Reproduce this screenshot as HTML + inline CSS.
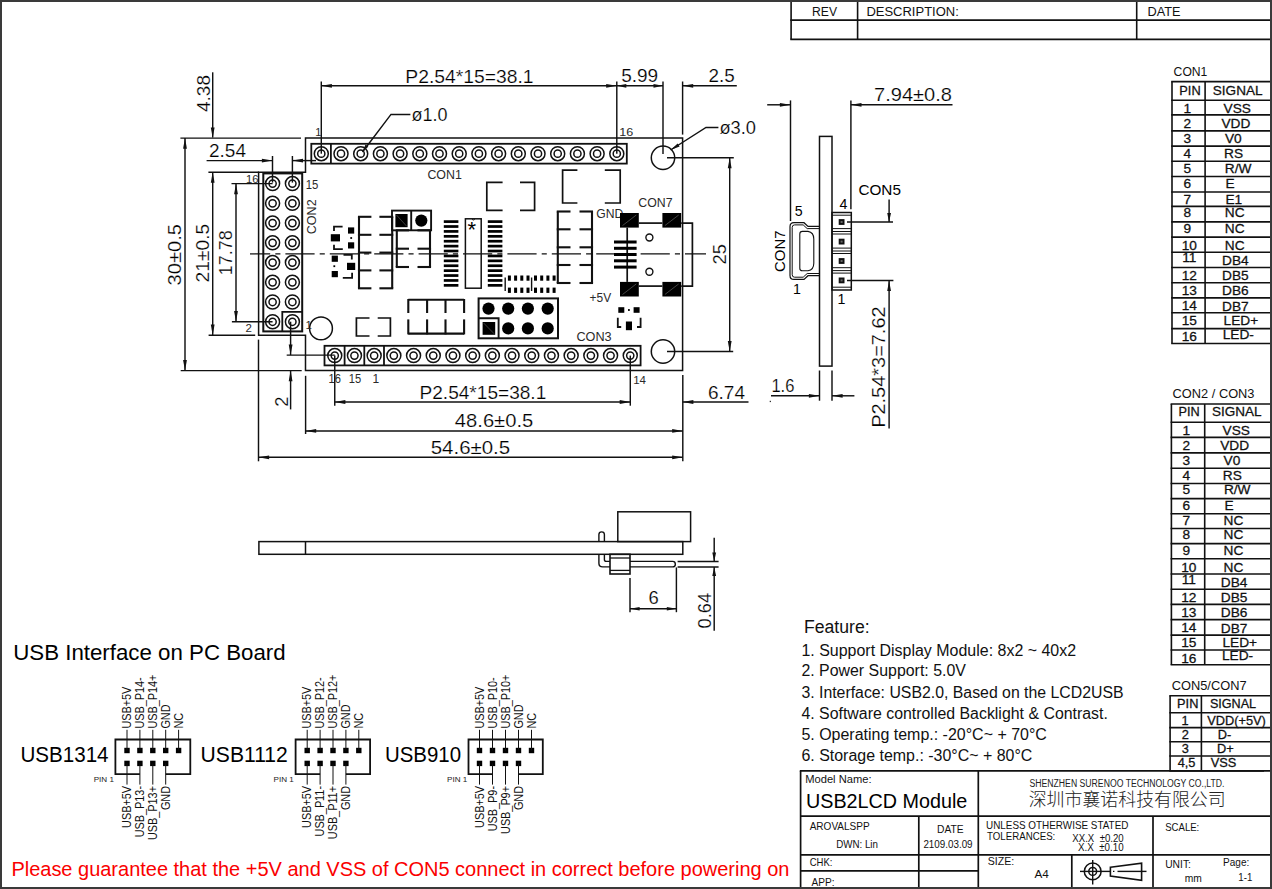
<!DOCTYPE html>
<html lang="en"><head><meta charset="utf-8"><title>USB2LCD Module drawing</title>
<style>
html,body{margin:0;padding:0;background:#fff;overflow:hidden}
svg{display:block;font-family:"Liberation Sans",sans-serif}
text{white-space:pre}
</style></head><body>
<svg width="1272" height="889" viewBox="0 0 1272 889">
<rect x="0" y="0" width="1272" height="889" fill="#fff"/>
<rect x="0" y="0" width="1272" height="2" fill="#3a3a3a"/>
<rect x="0" y="887" width="1272" height="2" fill="#3a3a3a"/>
<rect x="0" y="0" width="2" height="889" fill="#3a3a3a"/>
<rect x="1270" y="0" width="2" height="889" fill="#3a3a3a"/>
<line x1="791.1" y1="2" x2="791.1" y2="39.4" stroke="#111" stroke-width="1.6"/>
<line x1="857.6" y1="2" x2="857.6" y2="39.4" stroke="#111" stroke-width="1.6"/>
<line x1="1136.7" y1="2" x2="1136.7" y2="39.4" stroke="#111" stroke-width="1.6"/>
<line x1="790.3" y1="20.1" x2="1270" y2="20.1" stroke="#111" stroke-width="1.6"/>
<line x1="790.3" y1="39.4" x2="1270" y2="39.4" stroke="#111" stroke-width="1.6"/>
<text x="812" y="15.9" font-size="13.6" fill="#111" textLength="25" lengthAdjust="spacingAndGlyphs">REV</text>
<text x="866.4" y="15.9" font-size="13.6" fill="#111" textLength="92.4" lengthAdjust="spacingAndGlyphs">DESCRIPTION:</text>
<text x="1147.5" y="15.9" font-size="13.6" fill="#111" textLength="33" lengthAdjust="spacingAndGlyphs">DATE</text>
<path d="M305.5 138 L682.6 138 L682.6 370.6 L305.5 370.6 L305.5 335.2 L258.6 335.2 L258.6 172.3 L305.5 172.3 Z" stroke="#111" stroke-width="1.5" fill="none"/>
<line x1="250" y1="253.9" x2="706" y2="253.9" stroke="#111" stroke-width="1.25" stroke-dasharray="29.2 5.1 5.1 5" stroke-dashoffset="9"/>
<rect x="311.3" y="143.8" width="315.5" height="19.8" stroke="#111" stroke-width="1.8" fill="none"/>
<line x1="330.9" y1="143.8" x2="330.9" y2="163.6" stroke="#111" stroke-width="1.8"/>
<circle cx="321.3" cy="153.7" r="7" stroke="#111" stroke-width="1.5" fill="none"/>
<circle cx="321.3" cy="153.7" r="3.6" stroke="#111" stroke-width="1.5" fill="none"/>
<circle cx="341" cy="153.7" r="7" stroke="#111" stroke-width="1.5" fill="none"/>
<circle cx="341" cy="153.7" r="3.6" stroke="#111" stroke-width="1.5" fill="none"/>
<circle cx="360.7" cy="153.7" r="7" stroke="#111" stroke-width="1.5" fill="none"/>
<circle cx="360.7" cy="153.7" r="3.6" stroke="#111" stroke-width="1.5" fill="none"/>
<circle cx="380.4" cy="153.7" r="7" stroke="#111" stroke-width="1.5" fill="none"/>
<circle cx="380.4" cy="153.7" r="3.6" stroke="#111" stroke-width="1.5" fill="none"/>
<circle cx="400.1" cy="153.7" r="7" stroke="#111" stroke-width="1.5" fill="none"/>
<circle cx="400.1" cy="153.7" r="3.6" stroke="#111" stroke-width="1.5" fill="none"/>
<circle cx="419.8" cy="153.7" r="7" stroke="#111" stroke-width="1.5" fill="none"/>
<circle cx="419.8" cy="153.7" r="3.6" stroke="#111" stroke-width="1.5" fill="none"/>
<circle cx="439.5" cy="153.7" r="7" stroke="#111" stroke-width="1.5" fill="none"/>
<circle cx="439.5" cy="153.7" r="3.6" stroke="#111" stroke-width="1.5" fill="none"/>
<circle cx="459.2" cy="153.7" r="7" stroke="#111" stroke-width="1.5" fill="none"/>
<circle cx="459.2" cy="153.7" r="3.6" stroke="#111" stroke-width="1.5" fill="none"/>
<circle cx="478.9" cy="153.7" r="7" stroke="#111" stroke-width="1.5" fill="none"/>
<circle cx="478.9" cy="153.7" r="3.6" stroke="#111" stroke-width="1.5" fill="none"/>
<circle cx="498.6" cy="153.7" r="7" stroke="#111" stroke-width="1.5" fill="none"/>
<circle cx="498.6" cy="153.7" r="3.6" stroke="#111" stroke-width="1.5" fill="none"/>
<circle cx="518.3" cy="153.7" r="7" stroke="#111" stroke-width="1.5" fill="none"/>
<circle cx="518.3" cy="153.7" r="3.6" stroke="#111" stroke-width="1.5" fill="none"/>
<circle cx="538" cy="153.7" r="7" stroke="#111" stroke-width="1.5" fill="none"/>
<circle cx="538" cy="153.7" r="3.6" stroke="#111" stroke-width="1.5" fill="none"/>
<circle cx="557.7" cy="153.7" r="7" stroke="#111" stroke-width="1.5" fill="none"/>
<circle cx="557.7" cy="153.7" r="3.6" stroke="#111" stroke-width="1.5" fill="none"/>
<circle cx="577.4" cy="153.7" r="7" stroke="#111" stroke-width="1.5" fill="none"/>
<circle cx="577.4" cy="153.7" r="3.6" stroke="#111" stroke-width="1.5" fill="none"/>
<circle cx="597.1" cy="153.7" r="7" stroke="#111" stroke-width="1.5" fill="none"/>
<circle cx="597.1" cy="153.7" r="3.6" stroke="#111" stroke-width="1.5" fill="none"/>
<circle cx="616.8" cy="153.7" r="7" stroke="#111" stroke-width="1.5" fill="none"/>
<circle cx="616.8" cy="153.7" r="3.6" stroke="#111" stroke-width="1.5" fill="none"/>
<rect x="324.5" y="345.8" width="316.1" height="19.6" stroke="#111" stroke-width="1.8" fill="none"/>
<line x1="344.6" y1="345.8" x2="344.6" y2="365.4" stroke="#111" stroke-width="1.8"/>
<line x1="364.3" y1="345.8" x2="364.3" y2="365.4" stroke="#111" stroke-width="1.8"/>
<line x1="384" y1="345.8" x2="384" y2="365.4" stroke="#111" stroke-width="1.8"/>
<circle cx="334.75" cy="355.6" r="7" stroke="#111" stroke-width="1.5" fill="none"/>
<circle cx="334.75" cy="355.6" r="3.6" stroke="#111" stroke-width="1.5" fill="none"/>
<circle cx="354.45" cy="355.6" r="7" stroke="#111" stroke-width="1.5" fill="none"/>
<circle cx="354.45" cy="355.6" r="3.6" stroke="#111" stroke-width="1.5" fill="none"/>
<circle cx="374.15" cy="355.6" r="7" stroke="#111" stroke-width="1.5" fill="none"/>
<circle cx="374.15" cy="355.6" r="3.6" stroke="#111" stroke-width="1.5" fill="none"/>
<circle cx="393.85" cy="355.6" r="7" stroke="#111" stroke-width="1.5" fill="none"/>
<circle cx="393.85" cy="355.6" r="3.6" stroke="#111" stroke-width="1.5" fill="none"/>
<circle cx="413.55" cy="355.6" r="7" stroke="#111" stroke-width="1.5" fill="none"/>
<circle cx="413.55" cy="355.6" r="3.6" stroke="#111" stroke-width="1.5" fill="none"/>
<circle cx="433.25" cy="355.6" r="7" stroke="#111" stroke-width="1.5" fill="none"/>
<circle cx="433.25" cy="355.6" r="3.6" stroke="#111" stroke-width="1.5" fill="none"/>
<circle cx="452.95" cy="355.6" r="7" stroke="#111" stroke-width="1.5" fill="none"/>
<circle cx="452.95" cy="355.6" r="3.6" stroke="#111" stroke-width="1.5" fill="none"/>
<circle cx="472.65" cy="355.6" r="7" stroke="#111" stroke-width="1.5" fill="none"/>
<circle cx="472.65" cy="355.6" r="3.6" stroke="#111" stroke-width="1.5" fill="none"/>
<circle cx="492.35" cy="355.6" r="7" stroke="#111" stroke-width="1.5" fill="none"/>
<circle cx="492.35" cy="355.6" r="3.6" stroke="#111" stroke-width="1.5" fill="none"/>
<circle cx="512.05" cy="355.6" r="7" stroke="#111" stroke-width="1.5" fill="none"/>
<circle cx="512.05" cy="355.6" r="3.6" stroke="#111" stroke-width="1.5" fill="none"/>
<circle cx="531.75" cy="355.6" r="7" stroke="#111" stroke-width="1.5" fill="none"/>
<circle cx="531.75" cy="355.6" r="3.6" stroke="#111" stroke-width="1.5" fill="none"/>
<circle cx="551.45" cy="355.6" r="7" stroke="#111" stroke-width="1.5" fill="none"/>
<circle cx="551.45" cy="355.6" r="3.6" stroke="#111" stroke-width="1.5" fill="none"/>
<circle cx="571.15" cy="355.6" r="7" stroke="#111" stroke-width="1.5" fill="none"/>
<circle cx="571.15" cy="355.6" r="3.6" stroke="#111" stroke-width="1.5" fill="none"/>
<circle cx="590.85" cy="355.6" r="7" stroke="#111" stroke-width="1.5" fill="none"/>
<circle cx="590.85" cy="355.6" r="3.6" stroke="#111" stroke-width="1.5" fill="none"/>
<circle cx="610.55" cy="355.6" r="7" stroke="#111" stroke-width="1.5" fill="none"/>
<circle cx="610.55" cy="355.6" r="3.6" stroke="#111" stroke-width="1.5" fill="none"/>
<circle cx="630.25" cy="355.6" r="7" stroke="#111" stroke-width="1.5" fill="none"/>
<circle cx="630.25" cy="355.6" r="3.6" stroke="#111" stroke-width="1.5" fill="none"/>
<rect x="263.3" y="173.4" width="38.9" height="158" stroke="#111" stroke-width="2" fill="none"/>
<path d="M282.3 331.4 L282.3 311.9 L302.2 311.9" stroke="#111" stroke-width="1.8" fill="none"/>
<circle cx="272.6" cy="183.6" r="7" stroke="#111" stroke-width="1.5" fill="none"/>
<circle cx="272.6" cy="183.6" r="3.6" stroke="#111" stroke-width="1.5" fill="none"/>
<circle cx="292.4" cy="183.6" r="7" stroke="#111" stroke-width="1.5" fill="none"/>
<circle cx="292.4" cy="183.6" r="3.6" stroke="#111" stroke-width="1.5" fill="none"/>
<circle cx="272.6" cy="203.34" r="7" stroke="#111" stroke-width="1.5" fill="none"/>
<circle cx="272.6" cy="203.34" r="3.6" stroke="#111" stroke-width="1.5" fill="none"/>
<circle cx="292.4" cy="203.34" r="7" stroke="#111" stroke-width="1.5" fill="none"/>
<circle cx="292.4" cy="203.34" r="3.6" stroke="#111" stroke-width="1.5" fill="none"/>
<circle cx="272.6" cy="223.08" r="7" stroke="#111" stroke-width="1.5" fill="none"/>
<circle cx="272.6" cy="223.08" r="3.6" stroke="#111" stroke-width="1.5" fill="none"/>
<circle cx="292.4" cy="223.08" r="7" stroke="#111" stroke-width="1.5" fill="none"/>
<circle cx="292.4" cy="223.08" r="3.6" stroke="#111" stroke-width="1.5" fill="none"/>
<circle cx="272.6" cy="242.82" r="7" stroke="#111" stroke-width="1.5" fill="none"/>
<circle cx="272.6" cy="242.82" r="3.6" stroke="#111" stroke-width="1.5" fill="none"/>
<circle cx="292.4" cy="242.82" r="7" stroke="#111" stroke-width="1.5" fill="none"/>
<circle cx="292.4" cy="242.82" r="3.6" stroke="#111" stroke-width="1.5" fill="none"/>
<circle cx="272.6" cy="262.56" r="7" stroke="#111" stroke-width="1.5" fill="none"/>
<circle cx="272.6" cy="262.56" r="3.6" stroke="#111" stroke-width="1.5" fill="none"/>
<circle cx="292.4" cy="262.56" r="7" stroke="#111" stroke-width="1.5" fill="none"/>
<circle cx="292.4" cy="262.56" r="3.6" stroke="#111" stroke-width="1.5" fill="none"/>
<circle cx="272.6" cy="282.3" r="7" stroke="#111" stroke-width="1.5" fill="none"/>
<circle cx="272.6" cy="282.3" r="3.6" stroke="#111" stroke-width="1.5" fill="none"/>
<circle cx="292.4" cy="282.3" r="7" stroke="#111" stroke-width="1.5" fill="none"/>
<circle cx="292.4" cy="282.3" r="3.6" stroke="#111" stroke-width="1.5" fill="none"/>
<circle cx="272.6" cy="302.04" r="7" stroke="#111" stroke-width="1.5" fill="none"/>
<circle cx="272.6" cy="302.04" r="3.6" stroke="#111" stroke-width="1.5" fill="none"/>
<circle cx="292.4" cy="302.04" r="7" stroke="#111" stroke-width="1.5" fill="none"/>
<circle cx="292.4" cy="302.04" r="3.6" stroke="#111" stroke-width="1.5" fill="none"/>
<circle cx="272.6" cy="321.78" r="7" stroke="#111" stroke-width="1.5" fill="none"/>
<circle cx="272.6" cy="321.78" r="3.6" stroke="#111" stroke-width="1.5" fill="none"/>
<circle cx="292.4" cy="321.78" r="7" stroke="#111" stroke-width="1.5" fill="none"/>
<circle cx="292.4" cy="321.78" r="3.6" stroke="#111" stroke-width="1.5" fill="none"/>
<circle cx="663" cy="157.7" r="11.7" stroke="#111" stroke-width="1.5" fill="none"/>
<circle cx="321" cy="328.4" r="11.4" stroke="#111" stroke-width="1.5" fill="none"/>
<circle cx="663" cy="351.5" r="11.7" stroke="#111" stroke-width="1.5" fill="none"/>
<text x="315.2" y="136.2" font-size="11" fill="#2a2a2a">1</text>
<text x="619.2" y="135.6" font-size="11.5" fill="#2a2a2a" textLength="14" lengthAdjust="spacingAndGlyphs">16</text>
<text x="246" y="183.2" font-size="11.5" fill="#2a2a2a" textLength="12.5" lengthAdjust="spacingAndGlyphs">16</text>
<text x="305.8" y="188.6" font-size="12" fill="#2a2a2a" textLength="12.6" lengthAdjust="spacingAndGlyphs">15</text>
<text x="245.6" y="331.8" font-size="11.5" fill="#2a2a2a">2</text>
<text x="305.5" y="328.5" font-size="11.5" fill="#2a2a2a">1</text>
<text x="328.6" y="383.4" font-size="12" fill="#2a2a2a" textLength="12.4" lengthAdjust="spacingAndGlyphs">16</text>
<text x="348.7" y="383.4" font-size="12" fill="#2a2a2a" textLength="12.4" lengthAdjust="spacingAndGlyphs">15</text>
<text x="372.6" y="383.4" font-size="12" fill="#2a2a2a">1</text>
<text x="633.2" y="384.4" font-size="11.5" fill="#2a2a2a" textLength="12.8" lengthAdjust="spacingAndGlyphs">14</text>
<text x="427.4" y="178.8" font-size="12.5" fill="#2a2a2a" textLength="34.4" lengthAdjust="spacingAndGlyphs">CON1</text>
<text x="576.4" y="341.4" font-size="12.5" fill="#2a2a2a" textLength="35.2" lengthAdjust="spacingAndGlyphs">CON3</text>
<text x="638.3" y="207" font-size="12.5" fill="#2a2a2a" textLength="34.2" lengthAdjust="spacingAndGlyphs">CON7</text>
<text x="596.2" y="218.2" font-size="12.5" fill="#2a2a2a" textLength="27" lengthAdjust="spacingAndGlyphs">GND</text>
<text x="589.6" y="302" font-size="12" fill="#2a2a2a" textLength="21.6" lengthAdjust="spacingAndGlyphs">+5V</text>
<text x="315.8" y="234.2" font-size="12.5" fill="#2a2a2a" transform="rotate(-90 315.8 234.2)" textLength="34.8" lengthAdjust="spacingAndGlyphs">CON2</text>
<line x1="359" y1="216.8" x2="359" y2="288.3" stroke="#111" stroke-width="2.1"/>
<line x1="392.2" y1="216.8" x2="392.2" y2="288.3" stroke="#111" stroke-width="2.1"/>
<line x1="357.95" y1="216.8" x2="371.4" y2="216.8" stroke="#111" stroke-width="2.1"/>
<line x1="379.4" y1="216.8" x2="393.25" y2="216.8" stroke="#111" stroke-width="2.1"/>
<line x1="357.95" y1="234.8" x2="371.4" y2="234.8" stroke="#111" stroke-width="2.1"/>
<line x1="379.4" y1="234.8" x2="393.25" y2="234.8" stroke="#111" stroke-width="2.1"/>
<line x1="357.95" y1="252.6" x2="371.4" y2="252.6" stroke="#111" stroke-width="2.1"/>
<line x1="379.4" y1="252.6" x2="393.25" y2="252.6" stroke="#111" stroke-width="2.1"/>
<line x1="357.95" y1="270.4" x2="371.4" y2="270.4" stroke="#111" stroke-width="2.1"/>
<line x1="379.4" y1="270.4" x2="393.25" y2="270.4" stroke="#111" stroke-width="2.1"/>
<line x1="357.95" y1="288.3" x2="371.4" y2="288.3" stroke="#111" stroke-width="2.1"/>
<line x1="379.4" y1="288.3" x2="393.25" y2="288.3" stroke="#111" stroke-width="2.1"/>
<line x1="557.8" y1="211.5" x2="557.8" y2="283" stroke="#111" stroke-width="2.1"/>
<line x1="592" y1="211.5" x2="592" y2="283" stroke="#111" stroke-width="2.1"/>
<line x1="556.75" y1="211.5" x2="570.5" y2="211.5" stroke="#111" stroke-width="2.1"/>
<line x1="579.5" y1="211.5" x2="593.05" y2="211.5" stroke="#111" stroke-width="2.1"/>
<line x1="556.75" y1="229.3" x2="570.5" y2="229.3" stroke="#111" stroke-width="2.1"/>
<line x1="579.5" y1="229.3" x2="593.05" y2="229.3" stroke="#111" stroke-width="2.1"/>
<line x1="556.75" y1="247.3" x2="570.5" y2="247.3" stroke="#111" stroke-width="2.1"/>
<line x1="579.5" y1="247.3" x2="593.05" y2="247.3" stroke="#111" stroke-width="2.1"/>
<line x1="556.75" y1="265" x2="570.5" y2="265" stroke="#111" stroke-width="2.1"/>
<line x1="579.5" y1="265" x2="593.05" y2="265" stroke="#111" stroke-width="2.1"/>
<line x1="556.75" y1="283" x2="570.5" y2="283" stroke="#111" stroke-width="2.1"/>
<line x1="579.5" y1="283" x2="593.05" y2="283" stroke="#111" stroke-width="2.1"/>
<rect x="392" y="210.6" width="39.1" height="19.7" stroke="#111" stroke-width="1.9" fill="none"/>
<line x1="411.2" y1="210.6" x2="411.2" y2="230.3" stroke="#111" stroke-width="1.9"/>
<rect x="395.4" y="214" width="12.2" height="13.2" fill="#000"/>
<line x1="396.5" y1="215" x2="406.6" y2="226.2" stroke="#777" stroke-width="0.5"/>
<circle cx="421.3" cy="220.6" r="6.1" stroke="#111" stroke-width="0" fill="#000"/>
<line x1="396.8" y1="230.3" x2="396.8" y2="267" stroke="#111" stroke-width="2.1"/>
<line x1="430" y1="230.3" x2="430" y2="267" stroke="#111" stroke-width="2.1"/>
<line x1="395.75" y1="230.3" x2="409" y2="230.3" stroke="#111" stroke-width="2.1"/>
<line x1="417.5" y1="230.3" x2="431.05" y2="230.3" stroke="#111" stroke-width="2.1"/>
<line x1="395.75" y1="248.7" x2="409" y2="248.7" stroke="#111" stroke-width="2.1"/>
<line x1="417.5" y1="248.7" x2="431.05" y2="248.7" stroke="#111" stroke-width="2.1"/>
<line x1="395.75" y1="267" x2="409" y2="267" stroke="#111" stroke-width="2.1"/>
<line x1="417.5" y1="267" x2="431.05" y2="267" stroke="#111" stroke-width="2.1"/>
<rect x="465.4" y="218.8" width="15.8" height="69.4" stroke="#111" stroke-width="1.5" fill="none"/>
<path d="M472.2 218.8 A1.2 1.2 0 0 0 474.6 218.8" stroke="#111" stroke-width="1" fill="none"/>
<text x="471.8" y="237.3" font-size="22" fill="#000" text-anchor="middle">*</text>
<rect x="443.8" y="220.25" width="14.6" height="2.7" fill="#000"/>
<rect x="487.8" y="220.25" width="14.6" height="2.7" fill="#000"/>
<rect x="443.8" y="225.16" width="14.6" height="2.7" fill="#000"/>
<rect x="487.8" y="225.16" width="14.6" height="2.7" fill="#000"/>
<rect x="443.8" y="230.06" width="14.6" height="2.7" fill="#000"/>
<rect x="487.8" y="230.06" width="14.6" height="2.7" fill="#000"/>
<rect x="443.8" y="234.97" width="14.6" height="2.7" fill="#000"/>
<rect x="487.8" y="234.97" width="14.6" height="2.7" fill="#000"/>
<rect x="443.8" y="239.87" width="14.6" height="2.7" fill="#000"/>
<rect x="487.8" y="239.87" width="14.6" height="2.7" fill="#000"/>
<rect x="443.8" y="244.78" width="14.6" height="2.7" fill="#000"/>
<rect x="487.8" y="244.78" width="14.6" height="2.7" fill="#000"/>
<rect x="443.8" y="249.68" width="14.6" height="2.7" fill="#000"/>
<rect x="487.8" y="249.68" width="14.6" height="2.7" fill="#000"/>
<rect x="443.8" y="254.59" width="14.6" height="2.7" fill="#000"/>
<rect x="487.8" y="254.59" width="14.6" height="2.7" fill="#000"/>
<rect x="443.8" y="259.49" width="14.6" height="2.7" fill="#000"/>
<rect x="487.8" y="259.49" width="14.6" height="2.7" fill="#000"/>
<rect x="443.8" y="264.39" width="14.6" height="2.7" fill="#000"/>
<rect x="487.8" y="264.39" width="14.6" height="2.7" fill="#000"/>
<rect x="443.8" y="269.3" width="14.6" height="2.7" fill="#000"/>
<rect x="487.8" y="269.3" width="14.6" height="2.7" fill="#000"/>
<rect x="443.8" y="274.2" width="14.6" height="2.7" fill="#000"/>
<rect x="487.8" y="274.2" width="14.6" height="2.7" fill="#000"/>
<rect x="443.8" y="279.11" width="14.6" height="2.7" fill="#000"/>
<rect x="487.8" y="279.11" width="14.6" height="2.7" fill="#000"/>
<rect x="443.8" y="284.01" width="14.6" height="2.7" fill="#000"/>
<rect x="487.8" y="284.01" width="14.6" height="2.7" fill="#000"/>
<path d="M502.6 182.4 L486.8 182.4 L486.8 210.4 L502.6 210.4" stroke="#111" stroke-width="1.7" fill="none"/>
<path d="M520 182.4 L534.6 182.4 L534.6 210.4 L520 210.4" stroke="#111" stroke-width="1.7" fill="none"/>
<path d="M577.4 170.2 L562.6 170.2 L562.6 203 L577.4 203" stroke="#111" stroke-width="1.7" fill="none"/>
<path d="M604.8 170.2 L620.2 170.2 L620.2 203 L604.8 203" stroke="#111" stroke-width="1.7" fill="none"/>
<path d="M369.5 318 L356.4 318 L356.4 336 L369.5 336" stroke="#111" stroke-width="1.7" fill="none"/>
<path d="M377.7 318 L390.4 318 L390.4 336 L377.7 336" stroke="#111" stroke-width="1.7" fill="none"/>
<line x1="408.3" y1="299.8" x2="464.1" y2="299.8" stroke="#111" stroke-width="2.1"/>
<line x1="408.3" y1="333.6" x2="464.1" y2="333.6" stroke="#111" stroke-width="2.1"/>
<line x1="408.3" y1="299" x2="408.3" y2="313" stroke="#111" stroke-width="2.1"/>
<line x1="408.3" y1="319.4" x2="408.3" y2="334.4" stroke="#111" stroke-width="2.1"/>
<line x1="427.1" y1="299" x2="427.1" y2="313" stroke="#111" stroke-width="2.1"/>
<line x1="427.1" y1="319.4" x2="427.1" y2="334.4" stroke="#111" stroke-width="2.1"/>
<line x1="445.5" y1="299" x2="445.5" y2="313" stroke="#111" stroke-width="2.1"/>
<line x1="445.5" y1="319.4" x2="445.5" y2="334.4" stroke="#111" stroke-width="2.1"/>
<line x1="464.1" y1="299" x2="464.1" y2="313" stroke="#111" stroke-width="2.1"/>
<line x1="464.1" y1="319.4" x2="464.1" y2="334.4" stroke="#111" stroke-width="2.1"/>
<rect x="478.6" y="298.4" width="79.4" height="39.9" stroke="#111" stroke-width="2" fill="none"/>
<path d="M478.6 318.3 L498.6 318.3 L498.6 338.3" stroke="#111" stroke-width="1.9" fill="none"/>
<rect x="482.6" y="322" width="12.6" height="12.8" fill="#000"/>
<line x1="483.6" y1="323" x2="494.2" y2="333.8" stroke="#777" stroke-width="0.5"/>
<circle cx="488.5" cy="308.6" r="6.1" stroke="#111" stroke-width="0" fill="#000"/>
<circle cx="508.2" cy="308.6" r="6.1" stroke="#111" stroke-width="0" fill="#000"/>
<circle cx="508.2" cy="328.4" r="6.1" stroke="#111" stroke-width="0" fill="#000"/>
<circle cx="527.9" cy="308.6" r="6.1" stroke="#111" stroke-width="0" fill="#000"/>
<circle cx="527.9" cy="328.4" r="6.1" stroke="#111" stroke-width="0" fill="#000"/>
<circle cx="547.7" cy="308.6" r="6.1" stroke="#111" stroke-width="0" fill="#000"/>
<circle cx="547.7" cy="328.4" r="6.1" stroke="#111" stroke-width="0" fill="#000"/>
<rect x="507.9" y="275.5" width="3" height="5.2" fill="#000"/>
<rect x="507.9" y="287.6" width="3" height="5.3" fill="#000"/>
<rect x="514.1" y="275.5" width="3" height="5.2" fill="#000"/>
<rect x="514.1" y="287.6" width="3" height="5.3" fill="#000"/>
<rect x="520.3" y="275.5" width="3" height="5.2" fill="#000"/>
<rect x="520.3" y="287.6" width="3" height="5.3" fill="#000"/>
<rect x="526.5" y="275.5" width="3" height="5.2" fill="#000"/>
<rect x="526.5" y="287.6" width="3" height="5.3" fill="#000"/>
<rect x="534" y="275.5" width="3" height="5.2" fill="#000"/>
<rect x="534" y="287.6" width="3" height="5.3" fill="#000"/>
<rect x="540.2" y="275.5" width="3" height="5.2" fill="#000"/>
<rect x="540.2" y="287.6" width="3" height="5.3" fill="#000"/>
<rect x="546.4" y="275.5" width="3" height="5.2" fill="#000"/>
<rect x="546.4" y="287.6" width="3" height="5.3" fill="#000"/>
<rect x="552.6" y="275.5" width="3" height="5.2" fill="#000"/>
<rect x="552.6" y="287.6" width="3" height="5.3" fill="#000"/>
<line x1="505.2" y1="277.5" x2="505.2" y2="291" stroke="#111" stroke-width="1.4"/>
<line x1="531.6" y1="277.5" x2="531.6" y2="291" stroke="#111" stroke-width="1.4"/>
<rect x="620" y="213" width="18.8" height="14.6" fill="#000"/>
<line x1="622.5" y1="225.6" x2="636.3" y2="215" stroke="#888" stroke-width="0.5"/>
<rect x="662.4" y="213" width="18.8" height="14.6" fill="#000"/>
<line x1="664.9" y1="225.6" x2="678.7" y2="215" stroke="#888" stroke-width="0.5"/>
<rect x="620" y="281.9" width="18.8" height="14.6" fill="#000"/>
<line x1="622.5" y1="294.5" x2="636.3" y2="283.9" stroke="#888" stroke-width="0.5"/>
<rect x="662.4" y="281.9" width="18.8" height="14.6" fill="#000"/>
<line x1="664.9" y1="294.5" x2="678.7" y2="283.9" stroke="#888" stroke-width="0.5"/>
<line x1="638.8" y1="223.1" x2="662.4" y2="223.1" stroke="#111" stroke-width="1.7"/>
<line x1="638.8" y1="286.1" x2="662.4" y2="286.1" stroke="#111" stroke-width="1.7"/>
<path d="M681.2 223.1 L692.4 223.1 L692.4 286.1 L681.2 286.1" stroke="#111" stroke-width="1.7" fill="none"/>
<line x1="627.2" y1="227.6" x2="627.2" y2="281.9" stroke="#111" stroke-width="1.7"/>
<rect x="614" y="240.5" width="22.6" height="3" fill="#000"/>
<rect x="614" y="246.8" width="22.6" height="3" fill="#000"/>
<rect x="614" y="253" width="22.6" height="3" fill="#000"/>
<rect x="614" y="259.3" width="22.6" height="3" fill="#000"/>
<rect x="614" y="265.6" width="22.6" height="3" fill="#000"/>
<circle cx="649.4" cy="237.5" r="3.5" stroke="#111" stroke-width="1.4" fill="none"/>
<circle cx="649.4" cy="271.7" r="3.5" stroke="#111" stroke-width="1.4" fill="none"/>
<rect x="330.8" y="234.2" width="9.2" height="7.2" fill="#000"/>
<rect x="348" y="227.4" width="6.2" height="6.2" fill="#000"/>
<rect x="348" y="242.3" width="6.2" height="6.2" fill="#000"/>
<rect x="350.3" y="237.1" width="1.8" height="1.8" fill="#000"/>
<path d="M342.6 226.6 L334 226.6 L334 231" stroke="#111" stroke-width="1.8" fill="none"/>
<path d="M334 244.8 L334 249.2 L342.8 249.2" stroke="#111" stroke-width="1.8" fill="none"/>
<rect x="331.7" y="255.6" width="6.2" height="6.2" fill="#000"/>
<rect x="347" y="262.8" width="8.2" height="7.2" fill="#000"/>
<rect x="331.7" y="271" width="6.2" height="6.2" fill="#000"/>
<rect x="333.4" y="265.3" width="1.8" height="1.8" fill="#000"/>
<path d="M343.5 254.8 L351.8 254.8 L351.8 259.4" stroke="#111" stroke-width="1.8" fill="none"/>
<path d="M342.8 277.8 L352.1 277.8 L352.1 272.8" stroke="#111" stroke-width="1.8" fill="none"/>
<rect x="618.3" y="307.2" width="6" height="5.6" fill="#000"/>
<rect x="633.6" y="307.2" width="6" height="5.6" fill="#000"/>
<rect x="628" y="309.1" width="1.8" height="1.8" fill="#000"/>
<rect x="625.9" y="321.5" width="6.1" height="8.7" fill="#000"/>
<path d="M617.8 317.8 L617.8 327 L621.2 327" stroke="#111" stroke-width="1.8" fill="none"/>
<path d="M640.6 317.8 L640.6 327 L637 327" stroke="#111" stroke-width="1.8" fill="none"/>
<line x1="321.3" y1="81.5" x2="321.3" y2="153.7" stroke="#111" stroke-width="1.45"/>
<line x1="616.8" y1="81.5" x2="616.8" y2="153.7" stroke="#111" stroke-width="1.45"/>
<line x1="663" y1="81.5" x2="663" y2="154" stroke="#111" stroke-width="1.45"/>
<line x1="682.6" y1="81.5" x2="682.6" y2="134.6" stroke="#111" stroke-width="1.45"/>
<line x1="321.3" y1="85.8" x2="663" y2="85.8" stroke="#111" stroke-width="1.45"/>
<polygon points="321.3,85.8 331.9,83.9 331.9,87.7" fill="#111"/>
<polygon points="616.8,85.8 606.2,83.9 606.2,87.7" fill="#111"/>
<polygon points="616.8,85.8 626.3,83.9 626.3,87.7" fill="#111"/>
<polygon points="663,85.8 653.5,83.9 653.5,87.7" fill="#111"/>
<line x1="682.6" y1="85.8" x2="736.8" y2="85.8" stroke="#111" stroke-width="1.45"/>
<polygon points="682.6,85.8 693.2,83.9 693.2,87.7" fill="#111"/>
<text x="405.3" y="82.6" font-size="18.4" fill="#000" textLength="128.2" lengthAdjust="spacingAndGlyphs" stroke="#fff" stroke-width="0.2">P2.54*15=38.1</text>
<text x="621.2" y="82.2" font-size="18.4" fill="#000" textLength="37" lengthAdjust="spacingAndGlyphs" stroke="#fff" stroke-width="0.2">5.99</text>
<text x="708.6" y="82.2" font-size="18.4" fill="#000" textLength="26.2" lengthAdjust="spacingAndGlyphs" stroke="#fff" stroke-width="0.2">2.5</text>
<line x1="180.4" y1="138.1" x2="301" y2="138.1" stroke="#111" stroke-width="1.45"/>
<line x1="212.7" y1="72.3" x2="212.7" y2="137.5" stroke="#111" stroke-width="1.45"/>
<polygon points="212.7,138.1 210.8,127.5 214.6,127.5" fill="#111"/>
<text x="210" y="112" font-size="18.4" fill="#000" transform="rotate(-90 210 112)" textLength="37" lengthAdjust="spacingAndGlyphs" stroke="#fff" stroke-width="0.2">4.38</text>
<line x1="272.5" y1="156" x2="272.5" y2="182.6" stroke="#111" stroke-width="1.45"/>
<line x1="292.4" y1="156" x2="292.4" y2="182.6" stroke="#111" stroke-width="1.45"/>
<line x1="206.6" y1="160.6" x2="272.5" y2="160.6" stroke="#111" stroke-width="1.45"/>
<polygon points="272.5,160.6 261.9,158.7 261.9,162.5" fill="#111"/>
<line x1="292.4" y1="160.6" x2="316" y2="160.6" stroke="#111" stroke-width="1.45"/>
<polygon points="292.4,160.6 303,158.7 303,162.5" fill="#111"/>
<text x="209" y="157" font-size="18.4" fill="#000" textLength="37" lengthAdjust="spacingAndGlyphs" stroke="#fff" stroke-width="0.2">2.54</text>
<path d="M362.5 152 L391 114.4 L410.4 114.4" stroke="#111" stroke-width="1.45" fill="none"/>
<polygon points="362.6,151.2 365.5,144.5 368.3,146.7" fill="#111"/>
<text x="411.4" y="120.6" font-size="18.4" fill="#000" textLength="36" lengthAdjust="spacingAndGlyphs" stroke="#fff" stroke-width="0.2">ø1.0</text>
<path d="M670.6 150 L706 127.5 L718.4 127.5" stroke="#111" stroke-width="1.45" fill="none"/>
<polygon points="670.6,150 677.6,143.4 679.6,146.5" fill="#111"/>
<text x="719.4" y="133.6" font-size="18.4" fill="#000" textLength="36.6" lengthAdjust="spacingAndGlyphs" stroke="#fff" stroke-width="0.2">ø3.0</text>
<line x1="185" y1="138.1" x2="185" y2="370.6" stroke="#111" stroke-width="1.45"/>
<polygon points="185,138.1 183.1,148.7 186.9,148.7" fill="#111"/>
<polygon points="185,370.6 183.1,360 186.9,360" fill="#111"/>
<line x1="180.7" y1="370.6" x2="301.7" y2="370.6" stroke="#111" stroke-width="1.45"/>
<text x="181.2" y="285.4" font-size="18.4" fill="#000" transform="rotate(-90 181.2 285.4)" textLength="61.4" lengthAdjust="spacingAndGlyphs" stroke="#fff" stroke-width="0.2">30±0.5</text>
<line x1="208.4" y1="172.2" x2="259" y2="172.2" stroke="#111" stroke-width="1.45"/>
<line x1="208.6" y1="335.2" x2="255.2" y2="335.2" stroke="#111" stroke-width="1.45"/>
<line x1="212.7" y1="172.2" x2="212.7" y2="335.2" stroke="#111" stroke-width="1.45"/>
<polygon points="212.7,172.2 210.8,182.8 214.6,182.8" fill="#111"/>
<polygon points="212.7,335.2 210.8,324.6 214.6,324.6" fill="#111"/>
<text x="209.4" y="282.4" font-size="18.4" fill="#000" transform="rotate(-90 209.4 282.4)" textLength="58.6" lengthAdjust="spacingAndGlyphs" stroke="#fff" stroke-width="0.2">21±0.5</text>
<line x1="231.5" y1="183.6" x2="272.6" y2="183.6" stroke="#111" stroke-width="1.45"/>
<line x1="231.9" y1="321.7" x2="272.6" y2="321.7" stroke="#111" stroke-width="1.45"/>
<line x1="236" y1="183.6" x2="236" y2="321.7" stroke="#111" stroke-width="1.45"/>
<polygon points="236,183.6 234.1,194.2 237.9,194.2" fill="#111"/>
<polygon points="236,321.7 234.1,311.1 237.9,311.1" fill="#111"/>
<text x="232.2" y="275.2" font-size="18.4" fill="#000" transform="rotate(-90 232.2 275.2)" textLength="45" lengthAdjust="spacingAndGlyphs" stroke="#fff" stroke-width="0.2">17.78</text>
<line x1="290.6" y1="321.7" x2="290.6" y2="355.1" stroke="#111" stroke-width="1.45"/>
<polygon points="290.6,355.1 288.7,344.5 292.5,344.5" fill="#111"/>
<line x1="286.7" y1="355.1" x2="334.7" y2="355.1" stroke="#111" stroke-width="1.45"/>
<line x1="290.6" y1="370.6" x2="290.6" y2="409.4" stroke="#111" stroke-width="1.45"/>
<polygon points="290.6,370.6 288.7,381.2 292.5,381.2" fill="#111"/>
<text x="287.8" y="406.8" font-size="18.4" fill="#000" transform="rotate(-90 287.8 406.8)" stroke="#fff" stroke-width="0.2">2</text>
<line x1="334.75" y1="355.6" x2="334.75" y2="405.7" stroke="#111" stroke-width="1.45"/>
<line x1="630.3" y1="355.6" x2="630.3" y2="405.7" stroke="#111" stroke-width="1.45"/>
<line x1="334.75" y1="402" x2="630.3" y2="402" stroke="#111" stroke-width="1.45"/>
<polygon points="334.75,402 345.35,400.1 345.35,403.9" fill="#111"/>
<polygon points="630.3,402 619.7,400.1 619.7,403.9" fill="#111"/>
<text x="419.5" y="398.8" font-size="18.4" fill="#000" textLength="126.8" lengthAdjust="spacingAndGlyphs" stroke="#fff" stroke-width="0.2">P2.54*15=38.1</text>
<line x1="305.6" y1="375.8" x2="305.6" y2="434" stroke="#111" stroke-width="1.45"/>
<line x1="682.8" y1="375" x2="682.8" y2="461.3" stroke="#111" stroke-width="1.45"/>
<line x1="305.6" y1="430.9" x2="682.8" y2="430.9" stroke="#111" stroke-width="1.45"/>
<polygon points="305.6,430.9 316.2,429 316.2,432.8" fill="#111"/>
<polygon points="682.8,430.9 672.2,429 672.2,432.8" fill="#111"/>
<text x="454.8" y="427.3" font-size="18.4" fill="#000" textLength="78.5" lengthAdjust="spacingAndGlyphs" stroke="#fff" stroke-width="0.2">48.6±0.5</text>
<line x1="258.5" y1="339.6" x2="258.5" y2="461.3" stroke="#111" stroke-width="1.45"/>
<line x1="258.5" y1="457.3" x2="682.8" y2="457.3" stroke="#111" stroke-width="1.45"/>
<polygon points="258.5,457.3 269.1,455.4 269.1,459.2" fill="#111"/>
<polygon points="682.8,457.3 672.2,455.4 672.2,459.2" fill="#111"/>
<text x="430.7" y="453.7" font-size="18.4" fill="#000" textLength="79.5" lengthAdjust="spacingAndGlyphs" stroke="#fff" stroke-width="0.2">54.6±0.5</text>
<line x1="682.8" y1="402" x2="748.5" y2="402" stroke="#111" stroke-width="1.45"/>
<polygon points="682.8,402 693.4,400.1 693.4,403.9" fill="#111"/>
<text x="708" y="398.6" font-size="18.4" fill="#000" textLength="37" lengthAdjust="spacingAndGlyphs" stroke="#fff" stroke-width="0.2">6.74</text>
<line x1="667" y1="157.7" x2="733.8" y2="157.7" stroke="#111" stroke-width="1.45"/>
<line x1="667" y1="351.5" x2="733.2" y2="351.5" stroke="#111" stroke-width="1.45"/>
<line x1="729.7" y1="157.7" x2="729.7" y2="351.5" stroke="#111" stroke-width="1.45"/>
<polygon points="729.7,157.7 727.8,168.3 731.6,168.3" fill="#111"/>
<polygon points="729.7,351.5 727.8,340.9 731.6,340.9" fill="#111"/>
<text x="725.8" y="264.4" font-size="18.4" fill="#000" transform="rotate(-90 725.8 264.4)" textLength="20.4" lengthAdjust="spacingAndGlyphs" stroke="#fff" stroke-width="0.2">25</text>
<rect x="819.5" y="136.4" width="12.5" height="229.7" stroke="#111" stroke-width="1.5" fill="none"/>
<line x1="790.5" y1="100.4" x2="790.5" y2="221" stroke="#111" stroke-width="1.45"/>
<line x1="850.9" y1="100.4" x2="850.9" y2="209.3" stroke="#111" stroke-width="1.45"/>
<line x1="767.2" y1="104.8" x2="790.5" y2="104.8" stroke="#111" stroke-width="1.45"/>
<polygon points="790.5,104.8 779.9,102.9 779.9,106.7" fill="#111"/>
<line x1="850.9" y1="104.8" x2="952.5" y2="104.8" stroke="#111" stroke-width="1.45"/>
<polygon points="850.9,104.8 861.5,102.9 861.5,106.7" fill="#111"/>
<text x="874" y="101.3" font-size="18.4" fill="#000" textLength="78" lengthAdjust="spacingAndGlyphs" stroke="#fff" stroke-width="0.2">7.94±0.8</text>
<rect x="832" y="212.5" width="19.3" height="77.5" stroke="#111" stroke-width="1.5" fill="none"/>
<line x1="832" y1="228.6" x2="851.3" y2="228.6" stroke="#111" stroke-width="1"/>
<line x1="832" y1="231.5" x2="851.3" y2="231.5" stroke="#111" stroke-width="1"/>
<line x1="832" y1="234" x2="851.3" y2="234" stroke="#111" stroke-width="1"/>
<line x1="832" y1="248.1" x2="851.3" y2="248.1" stroke="#111" stroke-width="1"/>
<line x1="832" y1="251" x2="851.3" y2="251" stroke="#111" stroke-width="1"/>
<line x1="832" y1="253.5" x2="851.3" y2="253.5" stroke="#111" stroke-width="1"/>
<line x1="832" y1="267.7" x2="851.3" y2="267.7" stroke="#111" stroke-width="1"/>
<line x1="832" y1="270.6" x2="851.3" y2="270.6" stroke="#111" stroke-width="1"/>
<line x1="832" y1="273.1" x2="851.3" y2="273.1" stroke="#111" stroke-width="1"/>
<line x1="832" y1="215.2" x2="851.3" y2="215.2" stroke="#111" stroke-width="1"/>
<line x1="832" y1="287.2" x2="851.3" y2="287.2" stroke="#111" stroke-width="1"/>
<rect x="838.7" y="219.1" width="5.8" height="5.8" fill="#111"/>
<rect x="840.6" y="221" width="2" height="2" fill="#666"/>
<rect x="838.7" y="238.7" width="5.8" height="5.8" fill="#111"/>
<rect x="840.6" y="240.6" width="2" height="2" fill="#666"/>
<rect x="838.7" y="258.1" width="5.8" height="5.8" fill="#111"/>
<rect x="840.6" y="260" width="2" height="2" fill="#666"/>
<rect x="838.7" y="277.5" width="5.8" height="5.8" fill="#111"/>
<rect x="840.6" y="279.4" width="2" height="2" fill="#666"/>
<line x1="847" y1="222" x2="893" y2="222" stroke="#111" stroke-width="1.45"/>
<line x1="847" y1="280.4" x2="893.4" y2="280.4" stroke="#111" stroke-width="1.45"/>
<line x1="889.1" y1="199.6" x2="889.1" y2="222" stroke="#111" stroke-width="1.45"/>
<polygon points="889.1,222 887.2,213 891,213" fill="#111"/>
<line x1="889.1" y1="280.4" x2="889.1" y2="428.6" stroke="#111" stroke-width="1.45"/>
<polygon points="889.1,280.4 887.2,291 891,291" fill="#111"/>
<text x="858.4" y="194.6" font-size="14.2" fill="#000" textLength="42.5" lengthAdjust="spacingAndGlyphs">CON5</text>
<text x="839.4" y="208.7" font-size="14.2" fill="#000">4</text>
<text x="794.8" y="216.4" font-size="14.2" fill="#000">5</text>
<text x="793" y="293.8" font-size="14.2" fill="#000">1</text>
<text x="837.6" y="304.4" font-size="14.2" fill="#000">1</text>
<text x="884.8" y="427.8" font-size="18.4" fill="#000" transform="rotate(-90 884.8 427.8)" textLength="121.4" lengthAdjust="spacingAndGlyphs" stroke="#fff" stroke-width="0.2">P2.54*3=7.62</text>
<text x="784.6" y="272" font-size="14.6" fill="#000" transform="rotate(-90 784.6 272)" textLength="41.5" lengthAdjust="spacingAndGlyphs">CON7</text>
<path d="M819.5 226.4 L808 226.4 L804 222.7 L794 222.7 Q790 222.7 790 226.7 L790 275.4 Q790 279.4 794 279.4 L804 279.4 L808 275.7 L819.5 275.7" stroke="#111" stroke-width="1.2" fill="none"/>
<path d="M819.5 228.6 L807.2 228.6 L803.2 224.9 L794.6 224.9 Q792.2 224.9 792.2 227.3 L792.2 274.8 Q792.2 277.2 794.6 277.2 L803.2 277.2 L807.2 273.5 L819.5 273.5" stroke="#111" stroke-width="1" fill="none"/>
<path d="M802.4 231.4 L808 231.4 Q813.8 232.4 813.8 239 L813.8 263.2 Q813.8 269.8 808 270.8 L802.4 270.8 Q799.8 270.8 799.8 268.2 L799.8 234 Q799.8 231.4 802.4 231.4 Z" stroke="#111" stroke-width="1.1" fill="none"/>
<line x1="819.5" y1="370.5" x2="819.5" y2="400.7" stroke="#111" stroke-width="1.45"/>
<line x1="832" y1="370.5" x2="832" y2="400.7" stroke="#111" stroke-width="1.45"/>
<line x1="771" y1="395.8" x2="819.5" y2="395.8" stroke="#111" stroke-width="1.45"/>
<polygon points="819.5,395.8 808.9,393.9 808.9,397.7" fill="#111"/>
<rect x="769.7" y="400.8" width="1.3" height="1.3" fill="#333"/>
<line x1="832" y1="395.8" x2="854.4" y2="395.8" stroke="#111" stroke-width="1.45"/>
<polygon points="832,395.8 842.6,393.9 842.6,397.7" fill="#111"/>
<text x="771.4" y="392.4" font-size="18.4" fill="#000" textLength="23" lengthAdjust="spacingAndGlyphs" stroke="#fff" stroke-width="0.2">1.6</text>
<rect x="258.9" y="541.6" width="423.9" height="12.7" stroke="#111" stroke-width="1.5" fill="none"/>
<line x1="305.5" y1="541.6" x2="305.5" y2="554.3" stroke="#111" stroke-width="1.5"/>
<rect x="617.8" y="511.8" width="72.8" height="29.8" stroke="#111" stroke-width="1.5" fill="none"/>
<rect x="610" y="554.3" width="20" height="19.7" stroke="#111" stroke-width="1.6" fill="none"/>
<line x1="610" y1="558" x2="630" y2="558" stroke="#111" stroke-width="1.3"/>
<line x1="610" y1="570.4" x2="630" y2="570.4" stroke="#111" stroke-width="1.3"/>
<path d="M630 561.4 L672.6 561.4 A2.75 2.75 0 0 1 672.6 566.9 L630 566.9" stroke="#111" stroke-width="1.4" fill="none"/>
<path d="M610 566.9 L602.6 566.9 Q598.9 566.9 598.9 563.2 L598.9 554.3" stroke="#111" stroke-width="1.4" fill="none"/>
<path d="M610 561.4 L606.4 561.4 Q604.4 561.4 604.4 559.4 L604.4 554.3" stroke="#111" stroke-width="1.4" fill="none"/>
<path d="M598.9 541.6 L598.9 534.6 A2.75 2.75 0 0 1 604.4 534.6 L604.4 541.6" stroke="#111" stroke-width="1.4" fill="none"/>
<line x1="677.6" y1="561.4" x2="718.6" y2="561.4" stroke="#111" stroke-width="1.45"/>
<line x1="677.6" y1="566.9" x2="718.6" y2="566.9" stroke="#111" stroke-width="1.45"/>
<line x1="714.2" y1="537.8" x2="714.2" y2="561.4" stroke="#111" stroke-width="1.45"/>
<polygon points="714.2,561.4 712.3,552.4 716.1,552.4" fill="#111"/>
<line x1="714.2" y1="566.9" x2="714.2" y2="630.7" stroke="#111" stroke-width="1.45"/>
<polygon points="714.2,566.9 712.3,575.9 716.1,575.9" fill="#111"/>
<text x="710.6" y="628.4" font-size="18.4" fill="#000" transform="rotate(-90 710.6 628.4)" textLength="35.6" lengthAdjust="spacingAndGlyphs" stroke="#fff" stroke-width="0.2">0.64</text>
<line x1="630" y1="578" x2="630" y2="612.2" stroke="#111" stroke-width="1.45"/>
<line x1="676.4" y1="567.4" x2="676.4" y2="612.2" stroke="#111" stroke-width="1.45"/>
<line x1="630" y1="608.7" x2="676.4" y2="608.7" stroke="#111" stroke-width="1.45"/>
<polygon points="630,608.7 639.6,606.9 639.6,610.5" fill="#111"/>
<polygon points="676.4,608.7 666.8,606.9 666.8,610.5" fill="#111"/>
<text x="648.6" y="604.4" font-size="18.4" fill="#000" stroke="#fff" stroke-width="0.2">6</text>
<text x="13.2" y="660" font-size="22" fill="#000" textLength="272.5" lengthAdjust="spacingAndGlyphs">USB Interface on PC Board</text>
<text x="20.4" y="762.4" font-size="21.6" fill="#000" textLength="88.2" lengthAdjust="spacingAndGlyphs">USB1314</text>
<path d="M139.9 774.2 L115.4 774.2 L115.4 739.5 L190.3 739.5 L190.3 774.2 L165.7 774.2" stroke="#111" stroke-width="1.8" fill="none"/>
<text x="93.7" y="781.5" font-size="7.4" fill="#222" textLength="20.2" lengthAdjust="spacingAndGlyphs">PIN 1</text>
<rect x="124.3" y="747.8" width="5.4" height="5.4" fill="#000"/>
<line x1="127" y1="729.8" x2="127" y2="750.5" stroke="#111" stroke-width="1"/>
<text x="131.2" y="728.6" font-size="12" fill="#111" transform="rotate(-90 131.2 728.6)" textLength="41.91" lengthAdjust="spacingAndGlyphs">USB+5V</text>
<rect x="124.3" y="760.7" width="5.4" height="5.4" fill="#000"/>
<line x1="127" y1="763.4" x2="127" y2="784.6" stroke="#111" stroke-width="1"/>
<text x="131.2" y="786" font-size="12" fill="#111" text-anchor="end" transform="rotate(-90 131.2 786)" textLength="41.91" lengthAdjust="spacingAndGlyphs">USB+5V</text>
<rect x="137.2" y="747.8" width="5.4" height="5.4" fill="#000"/>
<line x1="139.9" y1="729.8" x2="139.9" y2="750.5" stroke="#111" stroke-width="1"/>
<text x="144.1" y="728.6" font-size="12" fill="#111" transform="rotate(-90 144.1 728.6)" textLength="51.27" lengthAdjust="spacingAndGlyphs">USB_P14-</text>
<rect x="137.2" y="760.7" width="5.4" height="5.4" fill="#000"/>
<line x1="139.9" y1="763.4" x2="139.9" y2="784.6" stroke="#111" stroke-width="1"/>
<text x="144.1" y="786" font-size="12" fill="#111" text-anchor="end" transform="rotate(-90 144.1 786)" textLength="51.27" lengthAdjust="spacingAndGlyphs">USB_P13-</text>
<rect x="150.1" y="747.8" width="5.4" height="5.4" fill="#000"/>
<line x1="152.8" y1="729.8" x2="152.8" y2="750.5" stroke="#111" stroke-width="1"/>
<text x="157" y="728.6" font-size="12" fill="#111" transform="rotate(-90 157 728.6)" textLength="53.99" lengthAdjust="spacingAndGlyphs">USB_P14+</text>
<rect x="150.1" y="760.7" width="5.4" height="5.4" fill="#000"/>
<line x1="152.8" y1="763.4" x2="152.8" y2="784.6" stroke="#111" stroke-width="1"/>
<text x="157" y="786" font-size="12" fill="#111" text-anchor="end" transform="rotate(-90 157 786)" textLength="53.99" lengthAdjust="spacingAndGlyphs">USB_P13+</text>
<rect x="163" y="747.8" width="5.4" height="5.4" fill="#000"/>
<line x1="165.7" y1="729.8" x2="165.7" y2="750.5" stroke="#111" stroke-width="1"/>
<text x="169.9" y="728.6" font-size="12" fill="#111" transform="rotate(-90 169.9 728.6)" textLength="24.11" lengthAdjust="spacingAndGlyphs">GND</text>
<rect x="163" y="760.7" width="5.4" height="5.4" fill="#000"/>
<line x1="165.7" y1="763.4" x2="165.7" y2="784.6" stroke="#111" stroke-width="1"/>
<text x="169.9" y="786" font-size="12" fill="#111" text-anchor="end" transform="rotate(-90 169.9 786)" textLength="24.11" lengthAdjust="spacingAndGlyphs">GND</text>
<rect x="175.9" y="747.8" width="5.4" height="5.4" fill="#000"/>
<line x1="178.6" y1="729.8" x2="178.6" y2="750.5" stroke="#111" stroke-width="1"/>
<text x="182.8" y="728.6" font-size="12" fill="#111" transform="rotate(-90 182.8 728.6)" textLength="15.67" lengthAdjust="spacingAndGlyphs">NC</text>
<text x="200.6" y="762.4" font-size="21.6" fill="#000" textLength="87.2" lengthAdjust="spacingAndGlyphs">USB1112</text>
<path d="M320.1 774.2 L295.6 774.2 L295.6 739.5 L370.1 739.5 L370.1 774.2 L345.9 774.2" stroke="#111" stroke-width="1.8" fill="none"/>
<text x="273.6" y="781.5" font-size="7.4" fill="#222" textLength="20.2" lengthAdjust="spacingAndGlyphs">PIN 1</text>
<rect x="304.5" y="747.8" width="5.4" height="5.4" fill="#000"/>
<line x1="307.2" y1="729.8" x2="307.2" y2="750.5" stroke="#111" stroke-width="1"/>
<text x="311.4" y="728.6" font-size="12" fill="#111" transform="rotate(-90 311.4 728.6)" textLength="41.91" lengthAdjust="spacingAndGlyphs">USB+5V</text>
<rect x="304.5" y="760.7" width="5.4" height="5.4" fill="#000"/>
<line x1="307.2" y1="763.4" x2="307.2" y2="784.6" stroke="#111" stroke-width="1"/>
<text x="311.4" y="786" font-size="12" fill="#111" text-anchor="end" transform="rotate(-90 311.4 786)" textLength="41.91" lengthAdjust="spacingAndGlyphs">USB+5V</text>
<rect x="317.4" y="747.8" width="5.4" height="5.4" fill="#000"/>
<line x1="320.1" y1="729.8" x2="320.1" y2="750.5" stroke="#111" stroke-width="1"/>
<text x="324.3" y="728.6" font-size="12" fill="#111" transform="rotate(-90 324.3 728.6)" textLength="51.27" lengthAdjust="spacingAndGlyphs">USB_P12-</text>
<rect x="317.4" y="760.7" width="5.4" height="5.4" fill="#000"/>
<line x1="320.1" y1="763.4" x2="320.1" y2="784.6" stroke="#111" stroke-width="1"/>
<text x="324.3" y="786" font-size="12" fill="#111" text-anchor="end" transform="rotate(-90 324.3 786)" textLength="50.45" lengthAdjust="spacingAndGlyphs">USB_P11-</text>
<rect x="330.3" y="747.8" width="5.4" height="5.4" fill="#000"/>
<line x1="333" y1="729.8" x2="333" y2="750.5" stroke="#111" stroke-width="1"/>
<text x="337.2" y="728.6" font-size="12" fill="#111" transform="rotate(-90 337.2 728.6)" textLength="53.99" lengthAdjust="spacingAndGlyphs">USB_P12+</text>
<rect x="330.3" y="760.7" width="5.4" height="5.4" fill="#000"/>
<line x1="333" y1="763.4" x2="333" y2="784.6" stroke="#111" stroke-width="1"/>
<text x="337.2" y="786" font-size="12" fill="#111" text-anchor="end" transform="rotate(-90 337.2 786)" textLength="53.18" lengthAdjust="spacingAndGlyphs">USB_P11+</text>
<rect x="343.2" y="747.8" width="5.4" height="5.4" fill="#000"/>
<line x1="345.9" y1="729.8" x2="345.9" y2="750.5" stroke="#111" stroke-width="1"/>
<text x="350.1" y="728.6" font-size="12" fill="#111" transform="rotate(-90 350.1 728.6)" textLength="24.11" lengthAdjust="spacingAndGlyphs">GND</text>
<rect x="343.2" y="760.7" width="5.4" height="5.4" fill="#000"/>
<line x1="345.9" y1="763.4" x2="345.9" y2="784.6" stroke="#111" stroke-width="1"/>
<text x="350.1" y="786" font-size="12" fill="#111" text-anchor="end" transform="rotate(-90 350.1 786)" textLength="24.11" lengthAdjust="spacingAndGlyphs">GND</text>
<rect x="356.1" y="747.8" width="5.4" height="5.4" fill="#000"/>
<line x1="358.8" y1="729.8" x2="358.8" y2="750.5" stroke="#111" stroke-width="1"/>
<text x="363" y="728.6" font-size="12" fill="#111" transform="rotate(-90 363 728.6)" textLength="15.67" lengthAdjust="spacingAndGlyphs">NC</text>
<text x="385" y="762.4" font-size="21.6" fill="#000" textLength="76" lengthAdjust="spacingAndGlyphs">USB910</text>
<path d="M492.5 774.2 L468.5 774.2 L468.5 739.5 L542.8 739.5 L542.8 774.2 L518.5 774.2" stroke="#111" stroke-width="1.8" fill="none"/>
<text x="447" y="781.5" font-size="7.4" fill="#222" textLength="20.2" lengthAdjust="spacingAndGlyphs">PIN 1</text>
<rect x="476.8" y="747.8" width="5.4" height="5.4" fill="#000"/>
<line x1="479.5" y1="729.8" x2="479.5" y2="750.5" stroke="#111" stroke-width="1"/>
<text x="483.7" y="728.6" font-size="12" fill="#111" transform="rotate(-90 483.7 728.6)" textLength="41.91" lengthAdjust="spacingAndGlyphs">USB+5V</text>
<rect x="476.8" y="760.7" width="5.4" height="5.4" fill="#000"/>
<line x1="479.5" y1="763.4" x2="479.5" y2="784.6" stroke="#111" stroke-width="1"/>
<text x="483.7" y="786" font-size="12" fill="#111" text-anchor="end" transform="rotate(-90 483.7 786)" textLength="41.91" lengthAdjust="spacingAndGlyphs">USB+5V</text>
<rect x="489.8" y="747.8" width="5.4" height="5.4" fill="#000"/>
<line x1="492.5" y1="729.8" x2="492.5" y2="750.5" stroke="#111" stroke-width="1"/>
<text x="496.7" y="728.6" font-size="12" fill="#111" transform="rotate(-90 496.7 728.6)" textLength="51.27" lengthAdjust="spacingAndGlyphs">USB_P10-</text>
<rect x="489.8" y="760.7" width="5.4" height="5.4" fill="#000"/>
<line x1="492.5" y1="763.4" x2="492.5" y2="784.6" stroke="#111" stroke-width="1"/>
<text x="496.7" y="786" font-size="12" fill="#111" text-anchor="end" transform="rotate(-90 496.7 786)" textLength="45.23" lengthAdjust="spacingAndGlyphs">USB_P9-</text>
<rect x="502.8" y="747.8" width="5.4" height="5.4" fill="#000"/>
<line x1="505.5" y1="729.8" x2="505.5" y2="750.5" stroke="#111" stroke-width="1"/>
<text x="509.7" y="728.6" font-size="12" fill="#111" transform="rotate(-90 509.7 728.6)" textLength="53.99" lengthAdjust="spacingAndGlyphs">USB_P10+</text>
<rect x="502.8" y="760.7" width="5.4" height="5.4" fill="#000"/>
<line x1="505.5" y1="763.4" x2="505.5" y2="784.6" stroke="#111" stroke-width="1"/>
<text x="509.7" y="786" font-size="12" fill="#111" text-anchor="end" transform="rotate(-90 509.7 786)" textLength="47.95" lengthAdjust="spacingAndGlyphs">USB_P9+</text>
<rect x="515.8" y="747.8" width="5.4" height="5.4" fill="#000"/>
<line x1="518.5" y1="729.8" x2="518.5" y2="750.5" stroke="#111" stroke-width="1"/>
<text x="522.7" y="728.6" font-size="12" fill="#111" transform="rotate(-90 522.7 728.6)" textLength="24.11" lengthAdjust="spacingAndGlyphs">GND</text>
<rect x="515.8" y="760.7" width="5.4" height="5.4" fill="#000"/>
<line x1="518.5" y1="763.4" x2="518.5" y2="784.6" stroke="#111" stroke-width="1"/>
<text x="522.7" y="786" font-size="12" fill="#111" text-anchor="end" transform="rotate(-90 522.7 786)" textLength="24.11" lengthAdjust="spacingAndGlyphs">GND</text>
<rect x="528.8" y="747.8" width="5.4" height="5.4" fill="#000"/>
<line x1="531.5" y1="729.8" x2="531.5" y2="750.5" stroke="#111" stroke-width="1"/>
<text x="535.7" y="728.6" font-size="12" fill="#111" transform="rotate(-90 535.7 728.6)" textLength="15.67" lengthAdjust="spacingAndGlyphs">NC</text>
<text x="11.4" y="876.3" font-size="19.9" fill="#fa0000" textLength="778" lengthAdjust="spacingAndGlyphs">Please guarantee that the +5V and VSS of CON5 connect in correct before powering on</text>
<text x="804" y="633.4" font-size="17.6" fill="#111" textLength="65.6" lengthAdjust="spacingAndGlyphs">Feature:</text>
<text x="801.4" y="656.1" font-size="15.8" fill="#111" textLength="274.7" lengthAdjust="spacingAndGlyphs">1. Support Display Module: 8x2 ~ 40x2</text>
<text x="801.4" y="676.4" font-size="15.8" fill="#111" textLength="164.5" lengthAdjust="spacingAndGlyphs">2. Power Support: 5.0V</text>
<text x="801.4" y="697.9" font-size="15.8" fill="#111" textLength="322.2" lengthAdjust="spacingAndGlyphs">3. Interface: USB2.0, Based on the LCD2USB</text>
<text x="801.4" y="719.3" font-size="15.8" fill="#111" textLength="306.5" lengthAdjust="spacingAndGlyphs">4. Software controlled Backlight &amp; Contrast.</text>
<text x="801.4" y="740" font-size="15.8" fill="#111" textLength="245.5" lengthAdjust="spacingAndGlyphs">5. Operating temp.: -20°C~ + 70°C</text>
<text x="801.4" y="760.5" font-size="15.8" fill="#111" textLength="231" lengthAdjust="spacingAndGlyphs">6. Storage temp.: -30°C~ + 80°C</text>
<text x="1173.6" y="76.2" font-size="12.4" fill="#111" textLength="33.8" lengthAdjust="spacingAndGlyphs">CON1</text>
<line x1="1171.2" y1="81.6" x2="1270" y2="81.6" stroke="#111" stroke-width="1.6"/>
<line x1="1171.2" y1="100.2" x2="1270" y2="100.2" stroke="#111" stroke-width="1.6"/>
<line x1="1171.2" y1="114.9" x2="1270" y2="114.9" stroke="#111" stroke-width="1.6"/>
<line x1="1171.2" y1="130.9" x2="1270" y2="130.9" stroke="#111" stroke-width="1.6"/>
<line x1="1171.2" y1="146.1" x2="1270" y2="146.1" stroke="#111" stroke-width="1.6"/>
<line x1="1171.2" y1="161.3" x2="1270" y2="161.3" stroke="#111" stroke-width="1.6"/>
<line x1="1171.2" y1="176.5" x2="1270" y2="176.5" stroke="#111" stroke-width="1.6"/>
<line x1="1171.2" y1="192" x2="1270" y2="192" stroke="#111" stroke-width="1.6"/>
<line x1="1171.2" y1="206.4" x2="1270" y2="206.4" stroke="#111" stroke-width="1.6"/>
<line x1="1171.2" y1="221.9" x2="1270" y2="221.9" stroke="#111" stroke-width="1.6"/>
<line x1="1171.2" y1="237.1" x2="1270" y2="237.1" stroke="#111" stroke-width="1.6"/>
<line x1="1171.2" y1="252.3" x2="1270" y2="252.3" stroke="#111" stroke-width="1.6"/>
<line x1="1171.2" y1="267.5" x2="1270" y2="267.5" stroke="#111" stroke-width="1.6"/>
<line x1="1171.2" y1="282.7" x2="1270" y2="282.7" stroke="#111" stroke-width="1.6"/>
<line x1="1171.2" y1="297.9" x2="1270" y2="297.9" stroke="#111" stroke-width="1.6"/>
<line x1="1171.2" y1="312.7" x2="1270" y2="312.7" stroke="#111" stroke-width="1.6"/>
<line x1="1171.2" y1="328.6" x2="1270" y2="328.6" stroke="#111" stroke-width="1.6"/>
<line x1="1171.2" y1="343.5" x2="1270" y2="343.5" stroke="#111" stroke-width="1.6"/>
<line x1="1172" y1="81.6" x2="1172" y2="343.5" stroke="#111" stroke-width="1.6"/>
<line x1="1205.1" y1="81.6" x2="1205.1" y2="343.5" stroke="#111" stroke-width="1.6"/>
<text x="1179.3" y="95.2" font-size="13.7" fill="#111" stroke="#111" stroke-width="0.28" textLength="21.4" lengthAdjust="spacingAndGlyphs">PIN</text>
<text x="1212.8" y="95.2" font-size="13.7" fill="#111" stroke="#111" stroke-width="0.28" textLength="49.8" lengthAdjust="spacingAndGlyphs">SIGNAL</text>
<text x="1187.3" y="112.7" font-size="13.7" fill="#111" stroke="#111" stroke-width="0.28" text-anchor="middle">1</text>
<text x="1223.5" y="112.7" font-size="13.7" fill="#111" stroke="#111" stroke-width="0.28">VSS</text>
<text x="1187.3" y="127.5" font-size="13.7" fill="#111" stroke="#111" stroke-width="0.28" text-anchor="middle">2</text>
<text x="1221.4" y="127.5" font-size="13.7" fill="#111" stroke="#111" stroke-width="0.28">VDD</text>
<text x="1187.3" y="143" font-size="13.7" fill="#111" stroke="#111" stroke-width="0.28" text-anchor="middle">3</text>
<text x="1224.9" y="143" font-size="13.7" fill="#111" stroke="#111" stroke-width="0.28">V0</text>
<text x="1187.3" y="158.2" font-size="13.7" fill="#111" stroke="#111" stroke-width="0.28" text-anchor="middle">4</text>
<text x="1224" y="158.2" font-size="13.7" fill="#111" stroke="#111" stroke-width="0.28">RS</text>
<text x="1187.3" y="172.7" font-size="13.7" fill="#111" stroke="#111" stroke-width="0.28" text-anchor="middle">5</text>
<text x="1224.8" y="172.7" font-size="13.7" fill="#111" stroke="#111" stroke-width="0.28">R/W</text>
<text x="1187.3" y="187.8" font-size="13.7" fill="#111" stroke="#111" stroke-width="0.28" text-anchor="middle">6</text>
<text x="1225.4" y="187.8" font-size="13.7" fill="#111" stroke="#111" stroke-width="0.28">E</text>
<text x="1187.3" y="203.5" font-size="13.7" fill="#111" stroke="#111" stroke-width="0.28" text-anchor="middle">7</text>
<text x="1225.4" y="203.5" font-size="13.7" fill="#111" stroke="#111" stroke-width="0.28">E1</text>
<text x="1187.3" y="217.4" font-size="13.7" fill="#111" stroke="#111" stroke-width="0.28" text-anchor="middle">8</text>
<text x="1224.8" y="217.4" font-size="13.7" fill="#111" stroke="#111" stroke-width="0.28">NC</text>
<text x="1187.3" y="233.4" font-size="13.7" fill="#111" stroke="#111" stroke-width="0.28" text-anchor="middle">9</text>
<text x="1224.8" y="233.4" font-size="13.7" fill="#111" stroke="#111" stroke-width="0.28">NC</text>
<text x="1189.3" y="249.5" font-size="13.7" fill="#111" stroke="#111" stroke-width="0.28" text-anchor="middle">10</text>
<text x="1224.8" y="249.5" font-size="13.7" fill="#111" stroke="#111" stroke-width="0.28">NC</text>
<text x="1189.3" y="262.1" font-size="13.7" fill="#111" stroke="#111" stroke-width="0.28" text-anchor="middle">11</text>
<text x="1222" y="265" font-size="13.7" fill="#111" stroke="#111" stroke-width="0.28">DB4</text>
<text x="1189.3" y="279.7" font-size="13.7" fill="#111" stroke="#111" stroke-width="0.28" text-anchor="middle">12</text>
<text x="1222" y="279.7" font-size="13.7" fill="#111" stroke="#111" stroke-width="0.28">DB5</text>
<text x="1189.3" y="294.5" font-size="13.7" fill="#111" stroke="#111" stroke-width="0.28" text-anchor="middle">13</text>
<text x="1222" y="294.5" font-size="13.7" fill="#111" stroke="#111" stroke-width="0.28">DB6</text>
<text x="1189.3" y="309.7" font-size="13.7" fill="#111" stroke="#111" stroke-width="0.28" text-anchor="middle">14</text>
<text x="1222" y="310.5" font-size="13.7" fill="#111" stroke="#111" stroke-width="0.28">DB7</text>
<text x="1189.3" y="324.6" font-size="13.7" fill="#111" stroke="#111" stroke-width="0.28" text-anchor="middle">15</text>
<text x="1223.6" y="324.6" font-size="13.7" fill="#111" stroke="#111" stroke-width="0.28">LED+</text>
<text x="1189.3" y="340.9" font-size="13.7" fill="#111" stroke="#111" stroke-width="0.28" text-anchor="middle">16</text>
<text x="1222.7" y="338.7" font-size="13.7" fill="#111" stroke="#111" stroke-width="0.28">LED-</text>
<text x="1172.6" y="397.9" font-size="12.4" fill="#111" textLength="81.9" lengthAdjust="spacingAndGlyphs">CON2 / CON3</text>
<line x1="1170.6" y1="404" x2="1270" y2="404" stroke="#111" stroke-width="1.6"/>
<line x1="1170.6" y1="422.2" x2="1270" y2="422.2" stroke="#111" stroke-width="1.6"/>
<line x1="1170.6" y1="437.4" x2="1270" y2="437.4" stroke="#111" stroke-width="1.6"/>
<line x1="1170.6" y1="452.9" x2="1270" y2="452.9" stroke="#111" stroke-width="1.6"/>
<line x1="1170.6" y1="468.3" x2="1270" y2="468.3" stroke="#111" stroke-width="1.6"/>
<line x1="1170.6" y1="483.5" x2="1270" y2="483.5" stroke="#111" stroke-width="1.6"/>
<line x1="1170.6" y1="498.6" x2="1270" y2="498.6" stroke="#111" stroke-width="1.6"/>
<line x1="1170.6" y1="513.8" x2="1270" y2="513.8" stroke="#111" stroke-width="1.6"/>
<line x1="1170.6" y1="528.5" x2="1270" y2="528.5" stroke="#111" stroke-width="1.6"/>
<line x1="1170.6" y1="543.6" x2="1270" y2="543.6" stroke="#111" stroke-width="1.6"/>
<line x1="1170.6" y1="558.8" x2="1270" y2="558.8" stroke="#111" stroke-width="1.6"/>
<line x1="1170.6" y1="574" x2="1270" y2="574" stroke="#111" stroke-width="1.6"/>
<line x1="1170.6" y1="589.2" x2="1270" y2="589.2" stroke="#111" stroke-width="1.6"/>
<line x1="1170.6" y1="604.4" x2="1270" y2="604.4" stroke="#111" stroke-width="1.6"/>
<line x1="1170.6" y1="619.6" x2="1270" y2="619.6" stroke="#111" stroke-width="1.6"/>
<line x1="1170.6" y1="635.1" x2="1270" y2="635.1" stroke="#111" stroke-width="1.6"/>
<line x1="1170.6" y1="650" x2="1270" y2="650" stroke="#111" stroke-width="1.6"/>
<line x1="1170.6" y1="664.8" x2="1270" y2="664.8" stroke="#111" stroke-width="1.6"/>
<line x1="1171.4" y1="404" x2="1171.4" y2="664.8" stroke="#111" stroke-width="1.6"/>
<line x1="1204.7" y1="404" x2="1204.7" y2="664.8" stroke="#111" stroke-width="1.6"/>
<text x="1178.5" y="416.3" font-size="13.7" fill="#111" stroke="#111" stroke-width="0.28" textLength="21.2" lengthAdjust="spacingAndGlyphs">PIN</text>
<text x="1211.9" y="416.3" font-size="13.7" fill="#111" stroke="#111" stroke-width="0.28" textLength="49.6" lengthAdjust="spacingAndGlyphs">SIGNAL</text>
<text x="1186.2" y="434.5" font-size="13.7" fill="#111" stroke="#111" stroke-width="0.28" text-anchor="middle">1</text>
<text x="1222.5" y="434.5" font-size="13.7" fill="#111" stroke="#111" stroke-width="0.28">VSS</text>
<text x="1186.2" y="449.7" font-size="13.7" fill="#111" stroke="#111" stroke-width="0.28" text-anchor="middle">2</text>
<text x="1220.2" y="449.7" font-size="13.7" fill="#111" stroke="#111" stroke-width="0.28">VDD</text>
<text x="1186.2" y="464.8" font-size="13.7" fill="#111" stroke="#111" stroke-width="0.28" text-anchor="middle">3</text>
<text x="1223.6" y="464.8" font-size="13.7" fill="#111" stroke="#111" stroke-width="0.28">V0</text>
<text x="1186.2" y="480.4" font-size="13.7" fill="#111" stroke="#111" stroke-width="0.28" text-anchor="middle">4</text>
<text x="1222.8" y="480.4" font-size="13.7" fill="#111" stroke="#111" stroke-width="0.28">RS</text>
<text x="1186.2" y="494.4" font-size="13.7" fill="#111" stroke="#111" stroke-width="0.28" text-anchor="middle">5</text>
<text x="1223.9" y="494.4" font-size="13.7" fill="#111" stroke="#111" stroke-width="0.28">R/W</text>
<text x="1186.2" y="509.6" font-size="13.7" fill="#111" stroke="#111" stroke-width="0.28" text-anchor="middle">6</text>
<text x="1224.6" y="509.6" font-size="13.7" fill="#111" stroke="#111" stroke-width="0.28">E</text>
<text x="1186.2" y="524.8" font-size="13.7" fill="#111" stroke="#111" stroke-width="0.28" text-anchor="middle">7</text>
<text x="1223.6" y="524.8" font-size="13.7" fill="#111" stroke="#111" stroke-width="0.28">NC</text>
<text x="1186.2" y="539.4" font-size="13.7" fill="#111" stroke="#111" stroke-width="0.28" text-anchor="middle">8</text>
<text x="1223.6" y="539.4" font-size="13.7" fill="#111" stroke="#111" stroke-width="0.28">NC</text>
<text x="1186.2" y="555.4" font-size="13.7" fill="#111" stroke="#111" stroke-width="0.28" text-anchor="middle">9</text>
<text x="1223.6" y="555.4" font-size="13.7" fill="#111" stroke="#111" stroke-width="0.28">NC</text>
<text x="1188.8" y="571.5" font-size="13.7" fill="#111" stroke="#111" stroke-width="0.28" text-anchor="middle">10</text>
<text x="1223.6" y="571.5" font-size="13.7" fill="#111" stroke="#111" stroke-width="0.28">NC</text>
<text x="1188.8" y="584.1" font-size="13.7" fill="#111" stroke="#111" stroke-width="0.28" text-anchor="middle">11</text>
<text x="1220.8" y="586.7" font-size="13.7" fill="#111" stroke="#111" stroke-width="0.28">DB4</text>
<text x="1188.8" y="601.9" font-size="13.7" fill="#111" stroke="#111" stroke-width="0.28" text-anchor="middle">12</text>
<text x="1220.8" y="601.9" font-size="13.7" fill="#111" stroke="#111" stroke-width="0.28">DB5</text>
<text x="1188.8" y="617" font-size="13.7" fill="#111" stroke="#111" stroke-width="0.28" text-anchor="middle">13</text>
<text x="1220.8" y="617" font-size="13.7" fill="#111" stroke="#111" stroke-width="0.28">DB6</text>
<text x="1188.8" y="631.7" font-size="13.7" fill="#111" stroke="#111" stroke-width="0.28" text-anchor="middle">14</text>
<text x="1220.8" y="632.7" font-size="13.7" fill="#111" stroke="#111" stroke-width="0.28">DB7</text>
<text x="1188.8" y="646.6" font-size="13.7" fill="#111" stroke="#111" stroke-width="0.28" text-anchor="middle">15</text>
<text x="1222.4" y="646.6" font-size="13.7" fill="#111" stroke="#111" stroke-width="0.28">LED+</text>
<text x="1188.8" y="662.6" font-size="13.7" fill="#111" stroke="#111" stroke-width="0.28" text-anchor="middle">16</text>
<text x="1221.9" y="660.4" font-size="13.7" fill="#111" stroke="#111" stroke-width="0.28">LED-</text>
<text x="1171.7" y="689.8" font-size="12.4" fill="#111" textLength="74.9" lengthAdjust="spacingAndGlyphs">CON5/CON7</text>
<line x1="1169.3" y1="695.7" x2="1270" y2="695.7" stroke="#111" stroke-width="1.6"/>
<line x1="1169.3" y1="712.7" x2="1270" y2="712.7" stroke="#111" stroke-width="1.6"/>
<line x1="1169.3" y1="727.6" x2="1270" y2="727.6" stroke="#111" stroke-width="1.6"/>
<line x1="1169.3" y1="741.8" x2="1270" y2="741.8" stroke="#111" stroke-width="1.6"/>
<line x1="1169.3" y1="756" x2="1270" y2="756" stroke="#111" stroke-width="1.6"/>
<line x1="1169.3" y1="770.9" x2="1270" y2="770.9" stroke="#111" stroke-width="1.6"/>
<line x1="1170.1" y1="695.7" x2="1170.1" y2="770.9" stroke="#111" stroke-width="1.6"/>
<line x1="1201.4" y1="695.7" x2="1201.4" y2="770.9" stroke="#111" stroke-width="1.6"/>
<text x="1177.1" y="707.8" font-size="12.8" fill="#111" stroke="#111" stroke-width="0.28" textLength="21.3" lengthAdjust="spacingAndGlyphs">PIN</text>
<text x="1209.9" y="707.8" font-size="12.8" fill="#111" stroke="#111" stroke-width="0.28" textLength="46.2" lengthAdjust="spacingAndGlyphs">SIGNAL</text>
<text x="1185" y="725.2" font-size="12.8" fill="#111" stroke="#111" stroke-width="0.28" text-anchor="middle">1</text>
<text x="1207.2" y="725.2" font-size="12.8" fill="#111" stroke="#111" stroke-width="0.28">VDD(+5V)</text>
<text x="1185.2" y="739.4" font-size="12.8" fill="#111" stroke="#111" stroke-width="0.28" text-anchor="middle">2</text>
<text x="1217.8" y="738.8" font-size="12.8" fill="#111" stroke="#111" stroke-width="0.28">D-</text>
<text x="1185.2" y="753.1" font-size="12.8" fill="#111" stroke="#111" stroke-width="0.28" text-anchor="middle">3</text>
<text x="1216.9" y="753.1" font-size="12.8" fill="#111" stroke="#111" stroke-width="0.28">D+</text>
<text x="1186.6" y="767" font-size="12.8" fill="#111" stroke="#111" stroke-width="0.28" text-anchor="middle">4,5</text>
<text x="1210.7" y="767" font-size="12.8" fill="#111" stroke="#111" stroke-width="0.28">VSS</text>
<line x1="799.8" y1="770.9" x2="1264" y2="770.9" stroke="#111" stroke-width="1.7"/>
<line x1="800.6" y1="771" x2="800.6" y2="887" stroke="#111" stroke-width="1.7"/>
<line x1="978.3" y1="771" x2="978.3" y2="887" stroke="#111" stroke-width="1.7"/>
<line x1="800.6" y1="816.1" x2="1270" y2="816.1" stroke="#111" stroke-width="1.7"/>
<line x1="800.6" y1="854.8" x2="1270" y2="854.8" stroke="#111" stroke-width="1.7"/>
<line x1="800.6" y1="870.8" x2="978.3" y2="870.8" stroke="#111" stroke-width="1.7"/>
<line x1="918.8" y1="816.1" x2="918.8" y2="887" stroke="#111" stroke-width="1.7"/>
<line x1="1153" y1="816.1" x2="1153" y2="887" stroke="#111" stroke-width="1.7"/>
<line x1="1071.8" y1="854.8" x2="1071.8" y2="887" stroke="#111" stroke-width="1.7"/>
<text x="805.2" y="782.6" font-size="11.2" fill="#111" textLength="66.3" lengthAdjust="spacingAndGlyphs">Model Name:</text>
<text x="806" y="808.4" font-size="20" fill="#000" textLength="161.3" lengthAdjust="spacingAndGlyphs">USB2LCD Module</text>
<text x="1029.5" y="786.6" font-size="10" fill="#222" textLength="195" lengthAdjust="spacingAndGlyphs">SHENZHEN SURENOO TECHNOLOGY CO.,LTD.</text>
<text x="1028.7" y="806.4" font-size="18" fill="#222" textLength="197" lengthAdjust="spacingAndGlyphs" font-weight="300" font-family='"Liberation Sans", "Noto Sans CJK SC", sans-serif'>深圳市襄诺科技有限公司</text>
<text x="809.7" y="830" font-size="10.4" fill="#111" textLength="60" lengthAdjust="spacingAndGlyphs">AROVALSPP</text>
<text x="836.2" y="848" font-size="10.4" fill="#111" textLength="41.8" lengthAdjust="spacingAndGlyphs">DWN: Lin</text>
<text x="937" y="833.2" font-size="10.4" fill="#111" textLength="26.6" lengthAdjust="spacingAndGlyphs">DATE</text>
<text x="923.4" y="848.4" font-size="10.4" fill="#111" textLength="49.2" lengthAdjust="spacingAndGlyphs">2109.03.09</text>
<text x="986" y="829.3" font-size="10.4" fill="#111" textLength="142.4" lengthAdjust="spacingAndGlyphs">UNLESS OTHERWISE STATED</text>
<text x="987" y="839.6" font-size="10.4" fill="#111" textLength="68.3" lengthAdjust="spacingAndGlyphs">TOLERANCES:</text>
<text x="1072.3" y="841.6" font-size="10.2" fill="#111" textLength="51.4" lengthAdjust="spacingAndGlyphs">XX.X  ±0.20</text>
<text x="1078" y="851.2" font-size="10.2" fill="#111" textLength="45.6" lengthAdjust="spacingAndGlyphs">X.X  ±0.10</text>
<text x="1165.2" y="830.9" font-size="10.4" fill="#111" textLength="34.1" lengthAdjust="spacingAndGlyphs">SCALE:</text>
<text x="809.7" y="866.2" font-size="10.4" fill="#111" textLength="22.7" lengthAdjust="spacingAndGlyphs">CHK:</text>
<text x="811.6" y="886.2" font-size="10.4" fill="#111" textLength="23.1" lengthAdjust="spacingAndGlyphs">APP:</text>
<text x="987.8" y="865.3" font-size="10.4" fill="#111" textLength="26.5" lengthAdjust="spacingAndGlyphs">SIZE:</text>
<text x="1034.4" y="877.5" font-size="10.4" fill="#111" textLength="14.4" lengthAdjust="spacingAndGlyphs">A4</text>
<text x="1165.2" y="868" font-size="10.4" fill="#111" textLength="25.7" lengthAdjust="spacingAndGlyphs">UNIT:</text>
<text x="1184.8" y="882" font-size="10.4" fill="#111" textLength="17.1" lengthAdjust="spacingAndGlyphs">mm</text>
<text x="1223.1" y="866" font-size="10.4" fill="#111" textLength="26.2" lengthAdjust="spacingAndGlyphs">Page:</text>
<text x="1238.3" y="881.3" font-size="10.4" fill="#111" textLength="14" lengthAdjust="spacingAndGlyphs">1-1</text>
<circle cx="1092.7" cy="871.4" r="8.4" stroke="#111" stroke-width="1.5" fill="none"/>
<circle cx="1092.7" cy="871.4" r="3.9" stroke="#111" stroke-width="1.5" fill="none"/>
<line x1="1080" y1="871.4" x2="1110.4" y2="871.4" stroke="#111" stroke-width="1.4"/>
<line x1="1092.7" y1="860" x2="1092.7" y2="884.6" stroke="#111" stroke-width="1.4"/>
<path d="M1110.4 867.3 L1141.6 863.1 L1141.6 880.4 L1110.4 876 Z" stroke="#111" stroke-width="1.6" fill="none"/>
<line x1="1117.5" y1="871.4" x2="1146.5" y2="871.4" stroke="#111" stroke-width="1.4"/>
<line x1="1113" y1="871.4" x2="1114.4" y2="871.4" stroke="#111" stroke-width="1.4"/>
</svg>
</body></html>
